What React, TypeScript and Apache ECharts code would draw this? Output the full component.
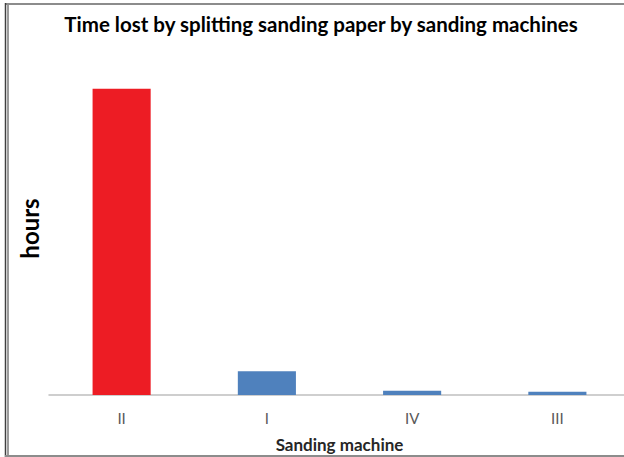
import React, { useEffect, useRef } from "react";
import * as echarts from "echarts";

const categories = ["II", "I", "IV", "III"];
const hours = [92, 7.1, 1.3, 1.0];
const barColors = ["#ed1c24", "#4f81bd", "#4f81bd", "#4f81bd"];

export default function App() {
  const ref = useRef<HTMLDivElement>(null);
  useEffect(() => {
    const chart = echarts.init(ref.current!, null, { renderer: "svg" });
    chart.setOption({
      animation: false,
      backgroundColor: "#ffffff",
      title: {
        text: "Time lost by splitting sanding paper by sanding machines",
        left: 316,
        textAlign: "center",
        top: 8,
        textStyle: { fontFamily: "Lato", fontWeight: "bold", fontSize: 20.5, color: "#000000" },
      },
      grid: { left: 49, top: 62, width: 581, bottom: 62, outerBoundsMode: "none", containLabel: false },
      xAxis: {
        type: "category",
        data: categories,
        name: "Sanding machine",
        nameLocation: "middle",
        nameGap: 41,
        nameTextStyle: { fontFamily: "Lato", fontWeight: "bold", fontSize: 17, color: "#262626" },
        axisLine: { lineStyle: { color: "#bfbfbf", width: 1.5 } },
        axisTick: { show: false },
        axisLabel: { margin: 15, fontFamily: "Lato", fontSize: 15, color: "#595959" },
      },
      yAxis: {
        type: "value",
        min: 0,
        max: 100,
        name: "hours",
        nameLocation: "middle",
        nameGap: 8,
        nameRotate: 90,
        nameTextStyle: { fontFamily: "Lato", fontWeight: "bold", fontSize: 24, color: "#000000" },
        axisLine: { show: false },
        axisTick: { show: false },
        axisLabel: { show: false },
        splitLine: { show: false },
      },
      series: [
        {
          type: "bar",
          barWidth: "40%",
          data: hours.map((v, i) => ({ value: v, itemStyle: { color: barColors[i] } })),
        },
      ],
      graphic: [
        { type: "line", shape: { x1: 5, y1: 4, x2: 624, y2: 4 }, style: { stroke: "#8c8c8c", lineWidth: 2 } },
        { type: "line", shape: { x1: 5.5, y1: 3, x2: 5.5, y2: 457 }, style: { stroke: "#404040", lineWidth: 1.5 } },
        { type: "line", shape: { x1: 8, y1: 5, x2: 8, y2: 457 }, style: { stroke: "#7a7a7a", lineWidth: 1.5 } },
        { type: "line", shape: { x1: 5, y1: 456, x2: 624, y2: 456 }, style: { stroke: "#8c8c8c", lineWidth: 2 } },
      ],
    });
    return () => chart.dispose();
  }, []);
  return <div ref={ref} style={{ position: "absolute", left: 0, top: 0, width: 624, height: 457 }} />;
}
